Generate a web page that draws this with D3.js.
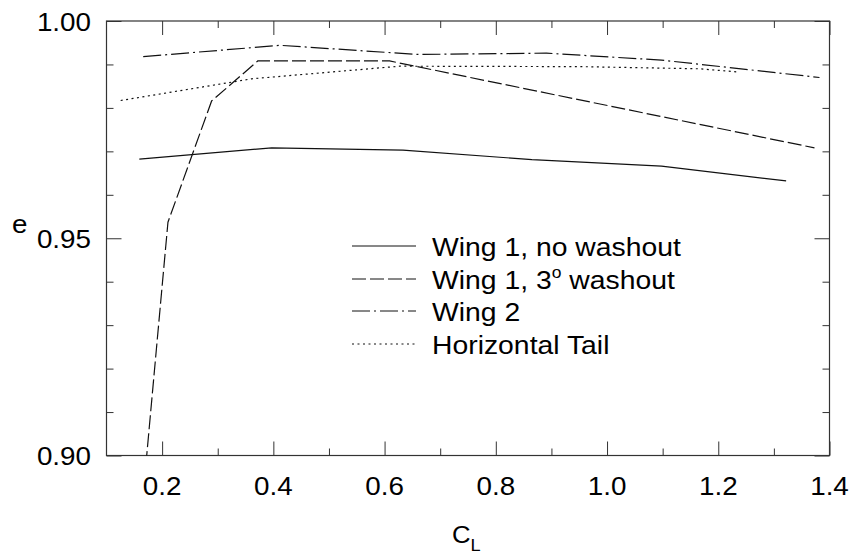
<!DOCTYPE html>
<html>
<head>
<meta charset="utf-8">
<script src="https://cdn.jsdelivr.net/npm/d3@7"></script>
<style>
  html, body { margin: 0; padding: 0; background: #fff; }
  svg { display: block; }
  text { font-family: "Liberation Sans", Arial, sans-serif; fill: #000; }
</style>
</head>
<body>
<svg id="chart" width="853" height="554"></svg>
<script>
// ---- data ----
const seriesNames = ["Wing 1, no washout", "Wing 1, 3° washout", "Wing 2", "Horizontal Tail"];

const clWing1 = [0.159, 0.397, 0.633, 0.865, 1.098, 1.322];
const eWing1  = [0.9682, 0.9708, 0.9703, 0.9681, 0.9666, 0.9632];

const clWing1Wash = [0.159, 0.2105, 0.289, 0.372, 0.609, 1.373];
const eWing1Wash  = [0.8813, 0.9537, 0.9816, 0.9908, 0.9908, 0.9708];

const clWing2 = [0.166, 0.412, 0.660, 0.891, 1.098, 1.382];
const eWing2  = [0.9918, 0.9944, 0.9923, 0.9926, 0.9910, 0.9870];

const clTail = [0.1255, 0.3615, 0.6274, 0.9508, 1.1664, 1.2324];
const eTail  = [0.9817, 0.9867, 0.9896, 0.9895, 0.9890, 0.9883];

const xMajorTicks = [0.2, 0.4, 0.6, 0.8, 1.0, 1.2, 1.4];
const xTickLabels = ["0.2", "0.4", "0.6", "0.8", "1.0", "1.2", "1.4"];
const xMinorTicks = [0.3, 0.5, 0.7, 0.9, 1.1, 1.3];
const yMajorTicks = [0.90, 0.95, 1.00];
const yTickLabels = ["0.90", "0.95", "1.00"];
const yMinorTicks = [0.91, 0.92, 0.93, 0.94, 0.96, 0.97, 0.98, 0.99];

// ---- layout ----
const L = 106.5, R = 829.5, T = 21, B = 455.5;
const svg = d3.select("#chart");
const x = d3.scaleLinear().domain([0.1, 1.4]).range([L, R]);
const y = d3.scaleLinear().domain([0.90, 1.00]).range([B, T]);

const axisColor = "#333";
const fontSize = 26;
const stretch = 1.07;

svg.append("defs").append("clipPath").attr("id", "plotclip")
  .append("rect").attr("x", L).attr("y", T).attr("width", R - L).attr("height", B - T);

function styleAxis(g) {
  g.select(".domain").remove();
  g.selectAll(".tick line").attr("stroke", axisColor).attr("stroke-width", 1);
  g.selectAll("text").remove();
}
const majorLen = 14, minorLen = 7;
svg.append("g").attr("transform", `translate(0,${B})`)
  .call(d3.axisTop(x).tickValues(xMajorTicks).tickSize(majorLen)).call(styleAxis);
svg.append("g").attr("transform", `translate(0,${B})`)
  .call(d3.axisTop(x).tickValues(xMinorTicks).tickSize(minorLen)).call(styleAxis);
svg.append("g").attr("transform", `translate(0,${T})`)
  .call(d3.axisBottom(x).tickValues(xMajorTicks).tickSize(majorLen)).call(styleAxis);
svg.append("g").attr("transform", `translate(0,${T})`)
  .call(d3.axisBottom(x).tickValues(xMinorTicks).tickSize(minorLen)).call(styleAxis);
svg.append("g").attr("transform", `translate(${L},0)`)
  .call(d3.axisRight(y).tickValues(yMajorTicks).tickSize(majorLen + 1)).call(styleAxis);
svg.append("g").attr("transform", `translate(${L},0)`)
  .call(d3.axisRight(y).tickValues(yMinorTicks).tickSize(minorLen)).call(styleAxis);
svg.append("g").attr("transform", `translate(${R},0)`)
  .call(d3.axisLeft(y).tickValues(yMajorTicks).tickSize(majorLen + 1)).call(styleAxis);
svg.append("g").attr("transform", `translate(${R},0)`)
  .call(d3.axisLeft(y).tickValues(yMinorTicks).tickSize(minorLen)).call(styleAxis);

svg.append("rect").attr("x", L).attr("y", T).attr("width", R - L).attr("height", B - T)
  .attr("fill", "none").attr("stroke", axisColor).attr("stroke-width", 1.2);

// tick labels (slightly wide lettering as in the reference)
svg.append("g").selectAll("text").data(xMajorTicks).join("text")
  .attr("transform", d => `translate(${x(d)},${B + 39}) scale(${stretch},1)`)
  .attr("text-anchor", "middle").attr("font-size", fontSize)
  .text((d, i) => xTickLabels[i]);
svg.append("g").selectAll("text").data(yMajorTicks).join("text")
  .attr("transform", d => `translate(91,${y(d) + 9.5}) scale(${stretch},1)`)
  .attr("text-anchor", "end").attr("font-size", fontSize)
  .text((d, i) => yTickLabels[i]);

// axis titles
svg.append("text").attr("transform", `translate(12,233) scale(${stretch},1)`)
  .attr("font-size", fontSize).text("e");
const xt = svg.append("text").attr("transform", `translate(452,543) scale(${stretch},1)`)
  .attr("font-size", 24);
xt.append("tspan").text("C");
xt.append("tspan").attr("font-size", 17).attr("dy", 8).text("L");

// series
const series = [
  { cl: clWing1, e: eWing1, dash: null },
  { cl: clWing1Wash, e: eWing1Wash, dash: "14,4" },
  { cl: clWing2, e: eWing2, dash: "18,4,2,4" },
  { cl: clTail, e: eTail, dash: "2,3.5" }
];
const line = d3.line().x(d => x(d[0])).y(d => y(d[1]));
const plot = svg.append("g").attr("clip-path", "url(#plotclip)");
series.forEach(s => {
  plot.append("path")
    .datum(s.cl.map((c, i) => [c, s.e[i]]))
    .attr("d", line)
    .attr("fill", "none").attr("stroke", "#111").attr("stroke-width", 1.2)
    .attr("stroke-dasharray", s.dash);
});

// legend
const legY = [246, 279, 311, 344];
const leg = svg.append("g");
series.forEach((s, i) => {
  leg.append("line").attr("x1", 352).attr("x2", 416).attr("y1", legY[i]).attr("y2", legY[i])
    .attr("stroke", "#111").attr("stroke-width", 1).attr("stroke-dasharray", s.dash);
  const t = leg.append("text")
    .attr("transform", `translate(432,${legY[i] + 9.5}) scale(${stretch + 0.02},1)`)
    .attr("font-size", fontSize);
  if (i === 1) {
    t.append("tspan").text("Wing 1, 3");
    t.append("tspan").attr("font-size", 16).attr("dy", -11).text("o");
    t.append("tspan").attr("dy", 11).text(" washout");
  } else {
    t.text(seriesNames[i]);
  }
});
</script>
</body>
</html>
